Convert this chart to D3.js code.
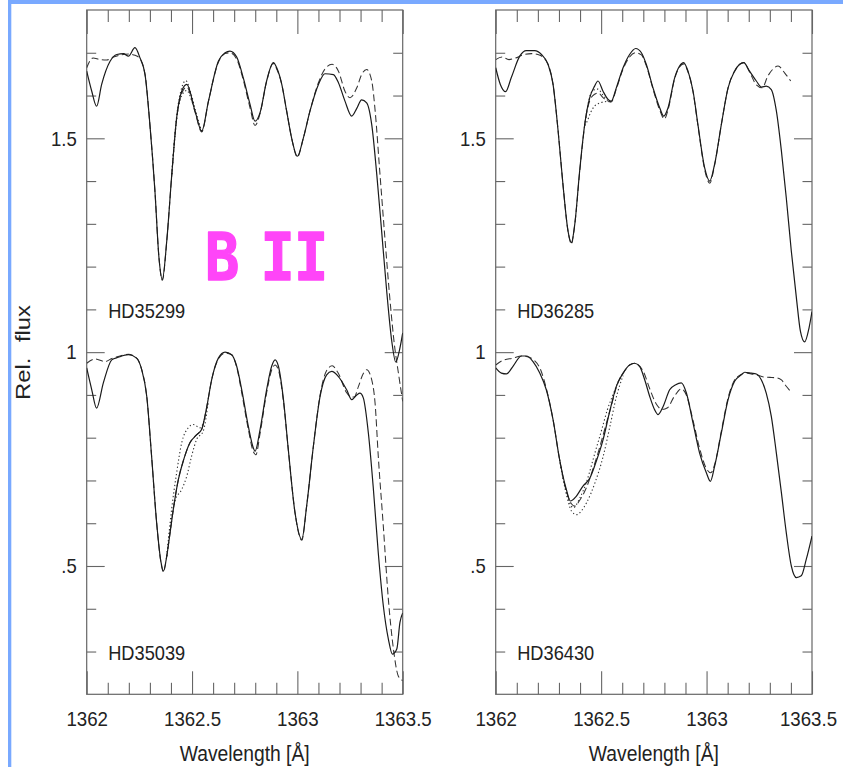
<!DOCTYPE html>
<html>
<head>
<meta charset="utf-8">
<script src="https://cdn.jsdelivr.net/npm/d3@7"></script>
<style>
  body { margin: 0; background: #fff; }
  svg { display: block; }
</style>
</head>
<body>
<svg id="chart" width="843" height="767"></svg>
<script>
// B II 1362.4 Å region: observed spectra (solid), best-fit synthesis (dashed)
// and two boron-abundance variants (dotted). Fluxes are normalised; the upper
// star of each column is shifted up by upperShift.

const upperShift = 0.7;

const xMajorTicks = [1362, 1362.5, 1363, 1363.5];
const xMinorTicks = [1362.1, 1362.2, 1362.3, 1362.4, 1362.6, 1362.7, 1362.8, 1362.9,
                     1363.1, 1363.2, 1363.3, 1363.4];
const yMajorTicks = [0.5, 1, 1.5];
const yMinorTicks = [0.3, 0.4, 0.6, 0.7, 0.8, 0.9, 1.1, 1.2, 1.3, 1.4, 1.6, 1.7];

// ---- HD35299 -------------------------------------------------------------
const hd35299Obs = [[1362.000,0.957],[1362.024,0.910],[1362.047,0.875],[1362.071,0.926],[1362.111,0.980],[1362.143,0.996],[1362.175,0.998],[1362.198,0.992],[1362.229,1.012],[1362.253,0.988],[1362.277,0.949],[1362.300,0.832],[1362.324,0.676],[1362.343,0.521],[1362.359,0.470],[1362.380,0.560],[1362.404,0.716],[1362.427,0.848],[1362.451,0.910],[1362.475,0.926],[1362.514,0.864],[1362.546,0.817],[1362.578,0.887],[1362.625,0.980],[1362.657,1.000],[1362.680,1.004],[1362.712,0.990],[1362.744,0.940],[1362.775,0.880],[1362.799,0.840],[1362.823,0.860],[1362.854,0.934],[1362.886,0.977],[1362.902,0.965],[1362.926,0.926],[1362.949,0.864],[1362.973,0.800],[1363.000,0.758],[1363.028,0.800],[1363.060,0.864],[1363.100,0.926],[1363.131,0.951],[1363.171,0.949],[1363.195,0.930],[1363.226,0.887],[1363.258,0.852],[1363.282,0.870],[1363.305,0.890],[1363.329,0.883],[1363.353,0.832],[1363.377,0.715],[1363.400,0.583],[1363.424,0.443],[1363.448,0.326],[1363.467,0.277],[1363.487,0.310],[1363.500,0.345]];
const hd35299Model = [[1362.000,0.965],[1362.030,0.988],[1362.063,0.984],[1362.095,0.983],[1362.127,0.990],[1362.160,0.995],[1362.200,0.997],[1362.230,0.994],[1362.253,0.986],[1362.277,0.949],[1362.300,0.832],[1362.324,0.676],[1362.343,0.521],[1362.359,0.468],[1362.380,0.560],[1362.404,0.716],[1362.427,0.846],[1362.451,0.905],[1362.475,0.920],[1362.514,0.862],[1362.546,0.815],[1362.578,0.887],[1362.625,0.978],[1362.657,0.998],[1362.680,1.000],[1362.712,0.985],[1362.744,0.935],[1362.775,0.872],[1362.799,0.830],[1362.823,0.858],[1362.854,0.933],[1362.886,0.975],[1362.902,0.962],[1362.926,0.926],[1362.949,0.864],[1362.973,0.800],[1363.000,0.756],[1363.028,0.800],[1363.060,0.864],[1363.100,0.930],[1363.131,0.962],[1363.165,0.973],[1363.195,0.957],[1363.226,0.910],[1363.250,0.895],[1363.282,0.918],[1363.305,0.949],[1363.329,0.961],[1363.353,0.934],[1363.370,0.860],[1363.390,0.730],[1363.415,0.570],[1363.440,0.420],[1363.460,0.320],[1363.480,0.250],[1363.500,0.185]];
const hd35299AltA = [[1362.404,0.716],[1362.427,0.852],[1362.451,0.918],[1362.470,0.935],[1362.495,0.905],[1362.520,0.858],[1362.546,0.815]];
const hd35299AltB = [[1362.404,0.716],[1362.427,0.844],[1362.451,0.900],[1362.475,0.912],[1362.500,0.886],[1362.530,0.838],[1362.546,0.815]];

// ---- HD35039 -------------------------------------------------------------
const hd35039Obs = [[1362.000,0.963],[1362.024,0.912],[1362.047,0.869],[1362.079,0.928],[1362.119,0.982],[1362.150,0.988],[1362.198,0.994],[1362.237,0.986],[1362.261,0.959],[1362.285,0.897],[1362.308,0.757],[1362.332,0.601],[1362.353,0.508],[1362.364,0.488],[1362.380,0.523],[1362.395,0.575],[1362.411,0.632],[1362.435,0.702],[1362.460,0.748],[1362.490,0.788],[1362.520,0.806],[1362.546,0.820],[1362.570,0.872],[1362.593,0.935],[1362.625,0.986],[1362.657,1.000],[1362.688,0.994],[1362.712,0.967],[1362.736,0.912],[1362.767,0.827],[1362.791,0.776],[1362.799,0.768],[1362.823,0.819],[1362.854,0.912],[1362.878,0.967],[1362.894,0.982],[1362.910,0.967],[1362.934,0.889],[1362.957,0.772],[1362.989,0.624],[1363.021,0.562],[1363.044,0.640],[1363.076,0.780],[1363.108,0.897],[1363.139,0.947],[1363.163,0.955],[1363.195,0.943],[1363.234,0.912],[1363.258,0.889],[1363.282,0.900],[1363.297,0.904],[1363.313,0.893],[1363.337,0.811],[1363.361,0.679],[1363.384,0.531],[1363.408,0.407],[1363.432,0.329],[1363.451,0.294],[1363.472,0.306],[1363.487,0.368],[1363.500,0.390]];
const hd35039Model = [[1362.000,0.974],[1362.040,0.984],[1362.087,0.978],[1362.119,0.985],[1362.150,0.990],[1362.198,0.995],[1362.237,0.986],[1362.261,0.959],[1362.285,0.897],[1362.308,0.757],[1362.332,0.601],[1362.353,0.506],[1362.364,0.486],[1362.380,0.523],[1362.395,0.575],[1362.411,0.632],[1362.435,0.702],[1362.460,0.748],[1362.490,0.788],[1362.520,0.806],[1362.546,0.820],[1362.570,0.872],[1362.593,0.935],[1362.625,0.984],[1362.657,0.998],[1362.688,0.994],[1362.712,0.965],[1362.736,0.905],[1362.767,0.820],[1362.791,0.767],[1362.803,0.760],[1362.823,0.810],[1362.854,0.905],[1362.878,0.958],[1362.894,0.970],[1362.910,0.958],[1362.934,0.885],[1362.957,0.772],[1362.989,0.624],[1363.021,0.560],[1363.044,0.640],[1363.076,0.780],[1363.108,0.900],[1363.139,0.957],[1363.165,0.968],[1363.195,0.950],[1363.234,0.905],[1363.250,0.897],[1363.270,0.895],[1363.290,0.920],[1363.313,0.950],[1363.329,0.959],[1363.353,0.935],[1363.369,0.880],[1363.384,0.757],[1363.408,0.593],[1363.432,0.422],[1363.456,0.306],[1363.479,0.243],[1363.500,0.232]];
const hd35039AltA = [[1362.380,0.523],[1362.403,0.632],[1362.427,0.718],[1362.451,0.788],[1362.482,0.823],[1362.506,0.831],[1362.538,0.823],[1362.560,0.845],[1362.577,0.885]];
const hd35039AltB = [[1362.380,0.523],[1362.400,0.603],[1362.419,0.652],[1362.451,0.679],[1362.475,0.710],[1362.498,0.757],[1362.522,0.796],[1362.553,0.815],[1362.577,0.885]];

// ---- HD36285 -------------------------------------------------------------
const hd36285Obs = [[1362.000,0.965],[1362.022,0.926],[1362.047,0.909],[1362.074,0.942],[1362.114,0.992],[1362.145,1.005],[1362.185,1.005],[1362.217,0.996],[1362.248,0.973],[1362.272,0.926],[1362.296,0.817],[1362.319,0.692],[1362.343,0.583],[1362.359,0.556],[1362.375,0.599],[1362.398,0.723],[1362.422,0.832],[1362.446,0.895],[1362.469,0.922],[1362.485,0.934],[1362.509,0.910],[1362.533,0.891],[1362.548,0.887],[1362.572,0.918],[1362.604,0.965],[1362.635,0.996],[1362.664,1.010],[1362.691,1.000],[1362.714,0.973],[1362.746,0.918],[1362.778,0.871],[1362.797,0.852],[1362.817,0.871],[1362.849,0.942],[1362.872,0.969],[1362.891,0.977],[1362.912,0.957],[1362.936,0.910],[1362.959,0.832],[1362.991,0.731],[1363.015,0.700],[1363.038,0.739],[1363.070,0.832],[1363.102,0.918],[1363.133,0.957],[1363.157,0.973],[1363.176,0.977],[1363.204,0.957],[1363.236,0.934],[1363.260,0.920],[1363.283,0.922],[1363.307,0.914],[1363.331,0.864],[1363.355,0.770],[1363.378,0.661],[1363.402,0.536],[1363.426,0.427],[1363.445,0.349],[1363.465,0.324],[1363.486,0.357],[1363.500,0.395]];
const hd36285Model = [[1362.000,0.984],[1362.030,0.990],[1362.063,0.984],[1362.090,0.987],[1362.130,0.995],[1362.170,0.998],[1362.210,0.994],[1362.248,0.973],[1362.272,0.926],[1362.296,0.817],[1362.319,0.692],[1362.343,0.583],[1362.359,0.553],[1362.375,0.599],[1362.398,0.720],[1362.422,0.830],[1362.446,0.888],[1362.469,0.903],[1362.487,0.906],[1362.509,0.895],[1362.533,0.887],[1362.548,0.885],[1362.572,0.915],[1362.604,0.962],[1362.635,0.990],[1362.664,1.000],[1362.691,0.995],[1362.714,0.970],[1362.746,0.915],[1362.778,0.866],[1362.800,0.845],[1362.817,0.866],[1362.849,0.940],[1362.872,0.967],[1362.891,0.974],[1362.912,0.955],[1362.936,0.908],[1362.959,0.830],[1362.991,0.727],[1363.015,0.695],[1363.038,0.737],[1363.070,0.832],[1363.102,0.918],[1363.133,0.957],[1363.157,0.973],[1363.176,0.977],[1363.204,0.955],[1363.236,0.925],[1363.264,0.918],[1363.290,0.945],[1363.315,0.962],[1363.339,0.969],[1363.370,0.953],[1363.399,0.934]];
const hd36285AltA = [[1362.422,0.830],[1362.440,0.885],[1362.460,0.912],[1362.485,0.915],[1362.510,0.900],[1362.533,0.888],[1362.548,0.885]];
const hd36285AltB = [[1362.422,0.830],[1362.432,0.838],[1362.450,0.860],[1362.470,0.876],[1362.490,0.882],[1362.530,0.886],[1362.548,0.885]];

// ---- HD36430 -------------------------------------------------------------
const hd36430Obs = [[1362.000,0.963],[1362.027,0.951],[1362.051,0.949],[1362.082,0.967],[1362.122,0.991],[1362.145,0.991],[1362.177,0.978],[1362.209,0.951],[1362.240,0.912],[1362.272,0.842],[1362.303,0.749],[1362.335,0.679],[1362.354,0.652],[1362.382,0.663],[1362.414,0.687],[1362.446,0.705],[1362.477,0.745],[1362.509,0.795],[1362.541,0.862],[1362.572,0.920],[1362.604,0.951],[1362.635,0.970],[1362.659,0.974],[1362.683,0.966],[1362.707,0.935],[1362.730,0.897],[1362.754,0.865],[1362.770,0.854],[1362.794,0.873],[1362.825,0.912],[1362.854,0.924],[1362.880,0.928],[1362.904,0.905],[1362.936,0.834],[1362.967,0.764],[1362.999,0.718],[1363.018,0.698],[1363.038,0.733],[1363.070,0.811],[1363.102,0.889],[1363.133,0.932],[1363.165,0.947],[1363.181,0.953],[1363.212,0.951],[1363.236,0.949],[1363.260,0.935],[1363.283,0.904],[1363.307,0.850],[1363.331,0.764],[1363.355,0.671],[1363.378,0.578],[1363.402,0.500],[1363.426,0.473],[1363.449,0.477],[1363.473,0.516],[1363.500,0.570]];
const hd36430Model = [[1362.000,0.970],[1362.035,0.981],[1362.082,0.986],[1362.122,0.991],[1362.145,0.990],[1362.180,0.982],[1362.212,0.960],[1362.240,0.915],[1362.272,0.842],[1362.303,0.749],[1362.335,0.675],[1362.360,0.645],[1362.375,0.640],[1362.400,0.655],[1362.430,0.683],[1362.460,0.725],[1362.490,0.772],[1362.520,0.825],[1362.550,0.878],[1362.572,0.918],[1362.604,0.950],[1362.635,0.970],[1362.659,0.974],[1362.700,0.955],[1362.730,0.915],[1362.760,0.880],[1362.790,0.866],[1362.815,0.870],[1362.845,0.895],[1362.880,0.914],[1362.904,0.900],[1362.936,0.840],[1362.967,0.775],[1362.999,0.728],[1363.020,0.718],[1363.040,0.740],[1363.070,0.815],[1363.102,0.893],[1363.133,0.935],[1363.165,0.948],[1363.181,0.952],[1363.212,0.949],[1363.236,0.947],[1363.270,0.942],[1363.300,0.941],[1363.330,0.940],[1363.355,0.935],[1363.375,0.922],[1363.399,0.908]];
const hd36430AltA = [[1362.303,0.749],[1362.335,0.672],[1362.368,0.636],[1362.400,0.660],[1362.431,0.697],[1362.471,0.765],[1362.503,0.819],[1362.530,0.866],[1362.560,0.905],[1362.590,0.940],[1362.604,0.950]];
const hd36430AltB = [[1362.303,0.749],[1362.335,0.668],[1362.360,0.628],[1362.384,0.620],[1362.405,0.628],[1362.431,0.648],[1362.471,0.695],[1362.510,0.757],[1362.542,0.827],[1362.572,0.895],[1362.604,0.945]];

const columns = [
  { stars: [
      { name: "HD35299", shift: upperShift, obs: hd35299Obs, model: hd35299Model, alts: [hd35299AltA, hd35299AltB] },
      { name: "HD35039", shift: 0,          obs: hd35039Obs, model: hd35039Model, alts: [hd35039AltA, hd35039AltB] } ] },
  { stars: [
      { name: "HD36285", shift: upperShift, obs: hd36285Obs, model: hd36285Model, alts: [hd36285AltA, hd36285AltB] },
      { name: "HD36430", shift: 0,          obs: hd36430Obs, model: hd36430Model, alts: [hd36430AltA, hd36430AltB] } ] }
];

// ---- layout ---------------------------------------------------------------
const svg = d3.select("#chart");
const FONT = "'Liberation Sans', Arial, sans-serif";
const INK = "#222";
const FRAME = "#666";
const panelX = [[86.7, 402.7], [495.7, 812]];
const panelTop = 10, panelBottom = 694.3;

const y = d3.scaleLinear().domain([0.2, 1.8]).range([panelBottom, panelTop]);

// page frame stripes
svg.append("rect").attr("x", 8).attr("y", 0).attr("width", 835).attr("height", 4).attr("fill", "#79a9ff");
svg.append("rect").attr("x", 8).attr("y", 0).attr("width", 3.3).attr("height", 767).attr("fill", "#79a9ff");

// width per label glyph: digits ~10.4 px, the point ~5 px
const labelWidth = s => s.split("").reduce((w, c) => w + (c === "." ? 5 : 10.4), 0);
const yFmt = d => d === 1 ? "1" : d3.format(".1f")(d).replace(/^0/, "");

columns.forEach((col, ci) => {
  const [x0, x1] = panelX[ci];
  const x = d3.scaleLinear().domain([1362, 1363.5]).range([x0, x1]);
  const g = svg.append("g");

  const clipId = "clip" + ci;
  svg.append("clipPath").attr("id", clipId)
    .append("rect").attr("x", x0).attr("y", panelTop)
    .attr("width", x1 - x0).attr("height", panelBottom - panelTop);

  const axisStyle = sel => {
    sel.attr("color", FRAME).attr("font-family", FONT).attr("font-size", 21);
    sel.select(".domain").remove();
    sel.selectAll("line").attr("stroke-width", 1.1);
  };

  // left edge: labelled major ticks + minor ticks, all pointing inward
  g.append("g").attr("transform", `translate(${x0},0)`)
    .call(d3.axisLeft(y).tickValues(yMajorTicks).tickSize(-18).tickPadding(10).tickFormat(yFmt))
    .call(axisStyle)
    .call(s => s.selectAll("text").attr("fill", INK)
      .attr("textLength", d => labelWidth(yFmt(d))).attr("lengthAdjust", "spacingAndGlyphs"));
  g.append("g").attr("transform", `translate(${x0},0)`)
    .call(d3.axisLeft(y).tickValues(yMinorTicks).tickSize(-9.5).tickFormat(""))
    .call(axisStyle);

  // right edge
  g.append("g").attr("transform", `translate(${x1},0)`)
    .call(d3.axisLeft(y).tickValues(yMajorTicks).tickSize(18).tickFormat(""))
    .call(axisStyle);
  g.append("g").attr("transform", `translate(${x1},0)`)
    .call(d3.axisLeft(y).tickValues(yMinorTicks).tickSize(9.5).tickFormat(""))
    .call(axisStyle);

  // top edge
  g.append("g").attr("transform", `translate(0,${panelTop})`)
    .call(d3.axisBottom(x).tickValues(xMajorTicks).tickSize(24).tickFormat(""))
    .call(axisStyle);
  g.append("g").attr("transform", `translate(0,${panelTop})`)
    .call(d3.axisBottom(x).tickValues(xMinorTicks).tickSize(12).tickFormat(""))
    .call(axisStyle);

  // bottom edge with wavelength labels; the last label of the right column
  // is nudged inward so it stays on the page
  const xFmt = d => String(d);
  g.append("g").attr("transform", `translate(0,${panelBottom})`)
    .call(d3.axisBottom(x).tickValues(xMajorTicks).tickSize(-23).tickPadding(17).tickFormat(xFmt))
    .call(axisStyle)
    .call(s => s.selectAll("text").attr("fill", INK)
      .attr("textLength", d => labelWidth(xFmt(d))).attr("lengthAdjust", "spacingAndGlyphs")
      .attr("x", d => (ci === 1 && d === 1363.5) ? -4 : 0));
  g.append("g").attr("transform", `translate(0,${panelBottom})`)
    .call(d3.axisBottom(x).tickValues(xMinorTicks).tickSize(-11.5).tickFormat(""))
    .call(axisStyle);

  // panel box
  g.append("rect").attr("x", x0).attr("y", panelTop)
    .attr("width", x1 - x0).attr("height", panelBottom - panelTop)
    .attr("fill", "none").attr("stroke", FRAME).attr("stroke-width", 1.2);

  // spectra
  const curves = g.append("g").attr("clip-path", `url(#${clipId})`).attr("fill", "none");
  col.stars.forEach(star => {
    const line = d3.line()
      .x(d => x(d[0]))
      .y(d => y(d[1] + star.shift))
      .curve(d3.curveMonotoneX);
    star.alts.forEach(alt => {
      curves.append("path").attr("d", line(alt))
        .attr("stroke", "#333").attr("stroke-width", 1.1).attr("stroke-dasharray", "1.3,2.4");
    });
    curves.append("path").attr("d", line(star.model))
      .attr("stroke", "#333").attr("stroke-width", 1.05).attr("stroke-dasharray", "7,3.5");
    curves.append("path").attr("d", line(star.obs))
      .attr("stroke", "#1a1a1a").attr("stroke-width", 1.2);
  });

  // star names
  const nameBase = [318, 660];
  col.stars.forEach((star, si) => {
    g.append("text").attr("x", x0 + 21.5).attr("y", nameBase[si])
      .attr("font-family", FONT).attr("font-size", 21).attr("fill", INK)
      .attr("textLength", 77).attr("lengthAdjust", "spacingAndGlyphs")
      .text(star.name);
  });

  // x-axis title
  g.append("text").attr("x", (x0 + x1) / 2).attr("y", 760.5)
    .attr("text-anchor", "middle")
    .attr("font-family", FONT).attr("font-size", 22).attr("fill", INK)
    .attr("textLength", 130).attr("lengthAdjust", "spacingAndGlyphs")
    .text("Wavelength [Å]");
});

// y-axis title
svg.append("text")
  .attr("transform", "translate(30,352.5) rotate(-90)")
  .attr("text-anchor", "middle")
  .attr("font-family", FONT).attr("font-size", 21).attr("fill", INK)
  .attr("textLength", 95).attr("lengthAdjust", "spacingAndGlyphs")
  .attr("word-spacing", 8)
  .text("Rel. flux");

// ion label
svg.append("g").attr("transform", "translate(205,280) scale(1,1.16)")
  .append("text")
  .attr("font-family", "'DejaVu Sans Mono', monospace").attr("font-weight", "bold")
  .attr("font-size", 57).attr("fill", "#ff45f8")
  .attr("stroke", "#ff45f8").attr("stroke-width", 1.2).attr("stroke-linejoin", "round")
  .attr("letter-spacing", -1).attr("word-spacing", -11)
  .text("B II");
</script>
</body>
</html>
